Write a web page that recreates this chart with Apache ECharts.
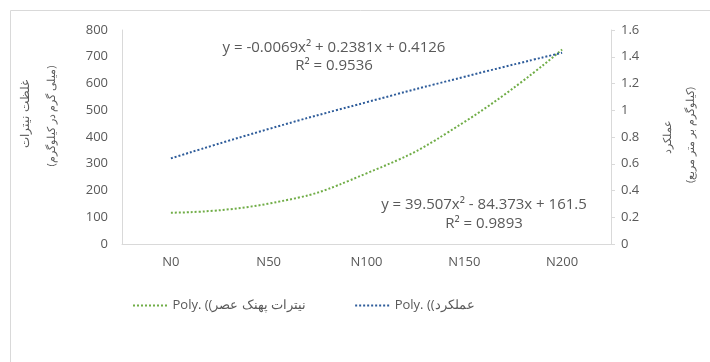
<!DOCTYPE html>
<html>
<head>
<meta charset="utf-8">
<script src="https://cdn.jsdelivr.net/npm/echarts@6/dist/echarts.min.js"></script>
<style>html,body{margin:0;padding:0;background:#fff}#c{width:710px;height:362px}</style>
</head>
<body>
<div id="c"></div>
<script>
const categories = ['N0', 'N50', 'N100', 'N150', 'N200'];
const nitrateValues = [117, 151, 264, 456, 727];
const yieldValues = [0.64, 0.86, 1.06, 1.25, 1.43];
const nitrateName = 'Poly. ((نیترات پهنک عصر';
const yieldName = 'Poly. ((عملکرد';
const leftTitle = ['غلظت نیترات', '(میلی گرم در کیلوگرم)'];
const rightTitle = ['عملکرد', '(کیلوگرم بر متر مربع)'];
const eqYield = ['y = -0.0069x² + 0.2381x + 0.4126', 'R² = 0.9536'];
const eqNitrate = ['y = 39.507x² - 84.373x + 161.5', 'R² = 0.9893'];

const FONT = '"Open Sans", "Noto Sans", sans-serif';
const GREY = '#595959';
const AXIS = '#D9D9D9';
const chart = echarts.init(document.getElementById('c'));

// dotted legend icon: 9 small squares
let dots = '';
for (let i = 0; i < 9; i++) dots += 'M' + (i * 4) + ',0h2v2h-2z';
const DOT_ICON = 'path://' + dots;

function vtext(x, y, t, fs) {
  return { type: 'text', x: x, y: y, rotation: Math.PI / 2,
    style: { text: t, fill: GREY, font: fs + 'px ' + FONT, align: 'center', verticalAlign: 'middle' } };
}
function htext(x, y, t) {
  return { type: 'text', x: x, y: y,
    style: { text: t, fill: GREY, font: '15px ' + FONT, align: 'center', verticalAlign: 'middle' } };
}

chart.setOption({
  animation: false,
  grid: { left: 122, right: 99, top: 30, bottom: 118 },
  xAxis: {
    type: 'category', data: categories, boundaryGap: true,
    axisLine: { lineStyle: { color: AXIS } }, axisTick: { show: false },
    axisLabel: { color: GREY, fontFamily: FONT, fontSize: 13, margin: 12 }
  },
  yAxis: [
    { type: 'value', min: 0, max: 800, interval: 100, position: 'left',
      axisLine: { show: true, lineStyle: { color: AXIS } }, axisTick: { show: false },
      splitLine: { show: false },
      axisLabel: { color: GREY, fontFamily: FONT, fontSize: 13, margin: 14 } },
    { type: 'value', min: 0, max: 1.6, interval: 0.2, position: 'right',
      axisLine: { show: true, lineStyle: { color: AXIS } },
      axisTick: { show: true, length: 4, lineStyle: { color: AXIS } },
      splitLine: { show: false },
      axisLabel: { color: GREY, fontFamily: FONT, fontSize: 13, margin: 10,
        formatter: v => String(Math.round(v * 10) / 10) } }
  ],
  legend: {
    left: 128, top: 294, itemWidth: 35, itemHeight: 2, itemGap: 49,
    icon: DOT_ICON,
    textStyle: { color: GREY, fontFamily: FONT, fontSize: 13 },
    data: [nitrateName, yieldName]
  },
  series: [
    { name: nitrateName, type: 'line', yAxisIndex: 0, data: nitrateValues, smooth: true,
      showSymbol: false, symbol: 'none',
      lineStyle: { color: '#70AD47', width: 2, type: [2, 2] }, itemStyle: { color: '#70AD47' } },
    { name: yieldName, type: 'line', yAxisIndex: 1, data: yieldValues, smooth: true,
      showSymbol: false, symbol: 'none',
      lineStyle: { color: '#2E5C9A', width: 2, type: [2, 2] }, itemStyle: { color: '#2E5C9A' } }
  ],
  graphic: [
    { type: 'rect', shape: { x: 10.5, y: 10.5, width: 720, height: 400 },
      style: { fill: null, stroke: AXIS, lineWidth: 1 }, silent: true },
    vtext(26, 114, leftTitle[0], 12),
    vtext(52, 116, leftTitle[1], 11),
    vtext(668, 137, rightTitle[0], 11),
    vtext(691, 135, rightTitle[1], 11),
    htext(334, 48, eqYield[0]),
    htext(334, 66, eqYield[1]),
    htext(484, 205, eqNitrate[0]),
    htext(484, 224, eqNitrate[1])
  ]
});
</script>
</body>
</html>
